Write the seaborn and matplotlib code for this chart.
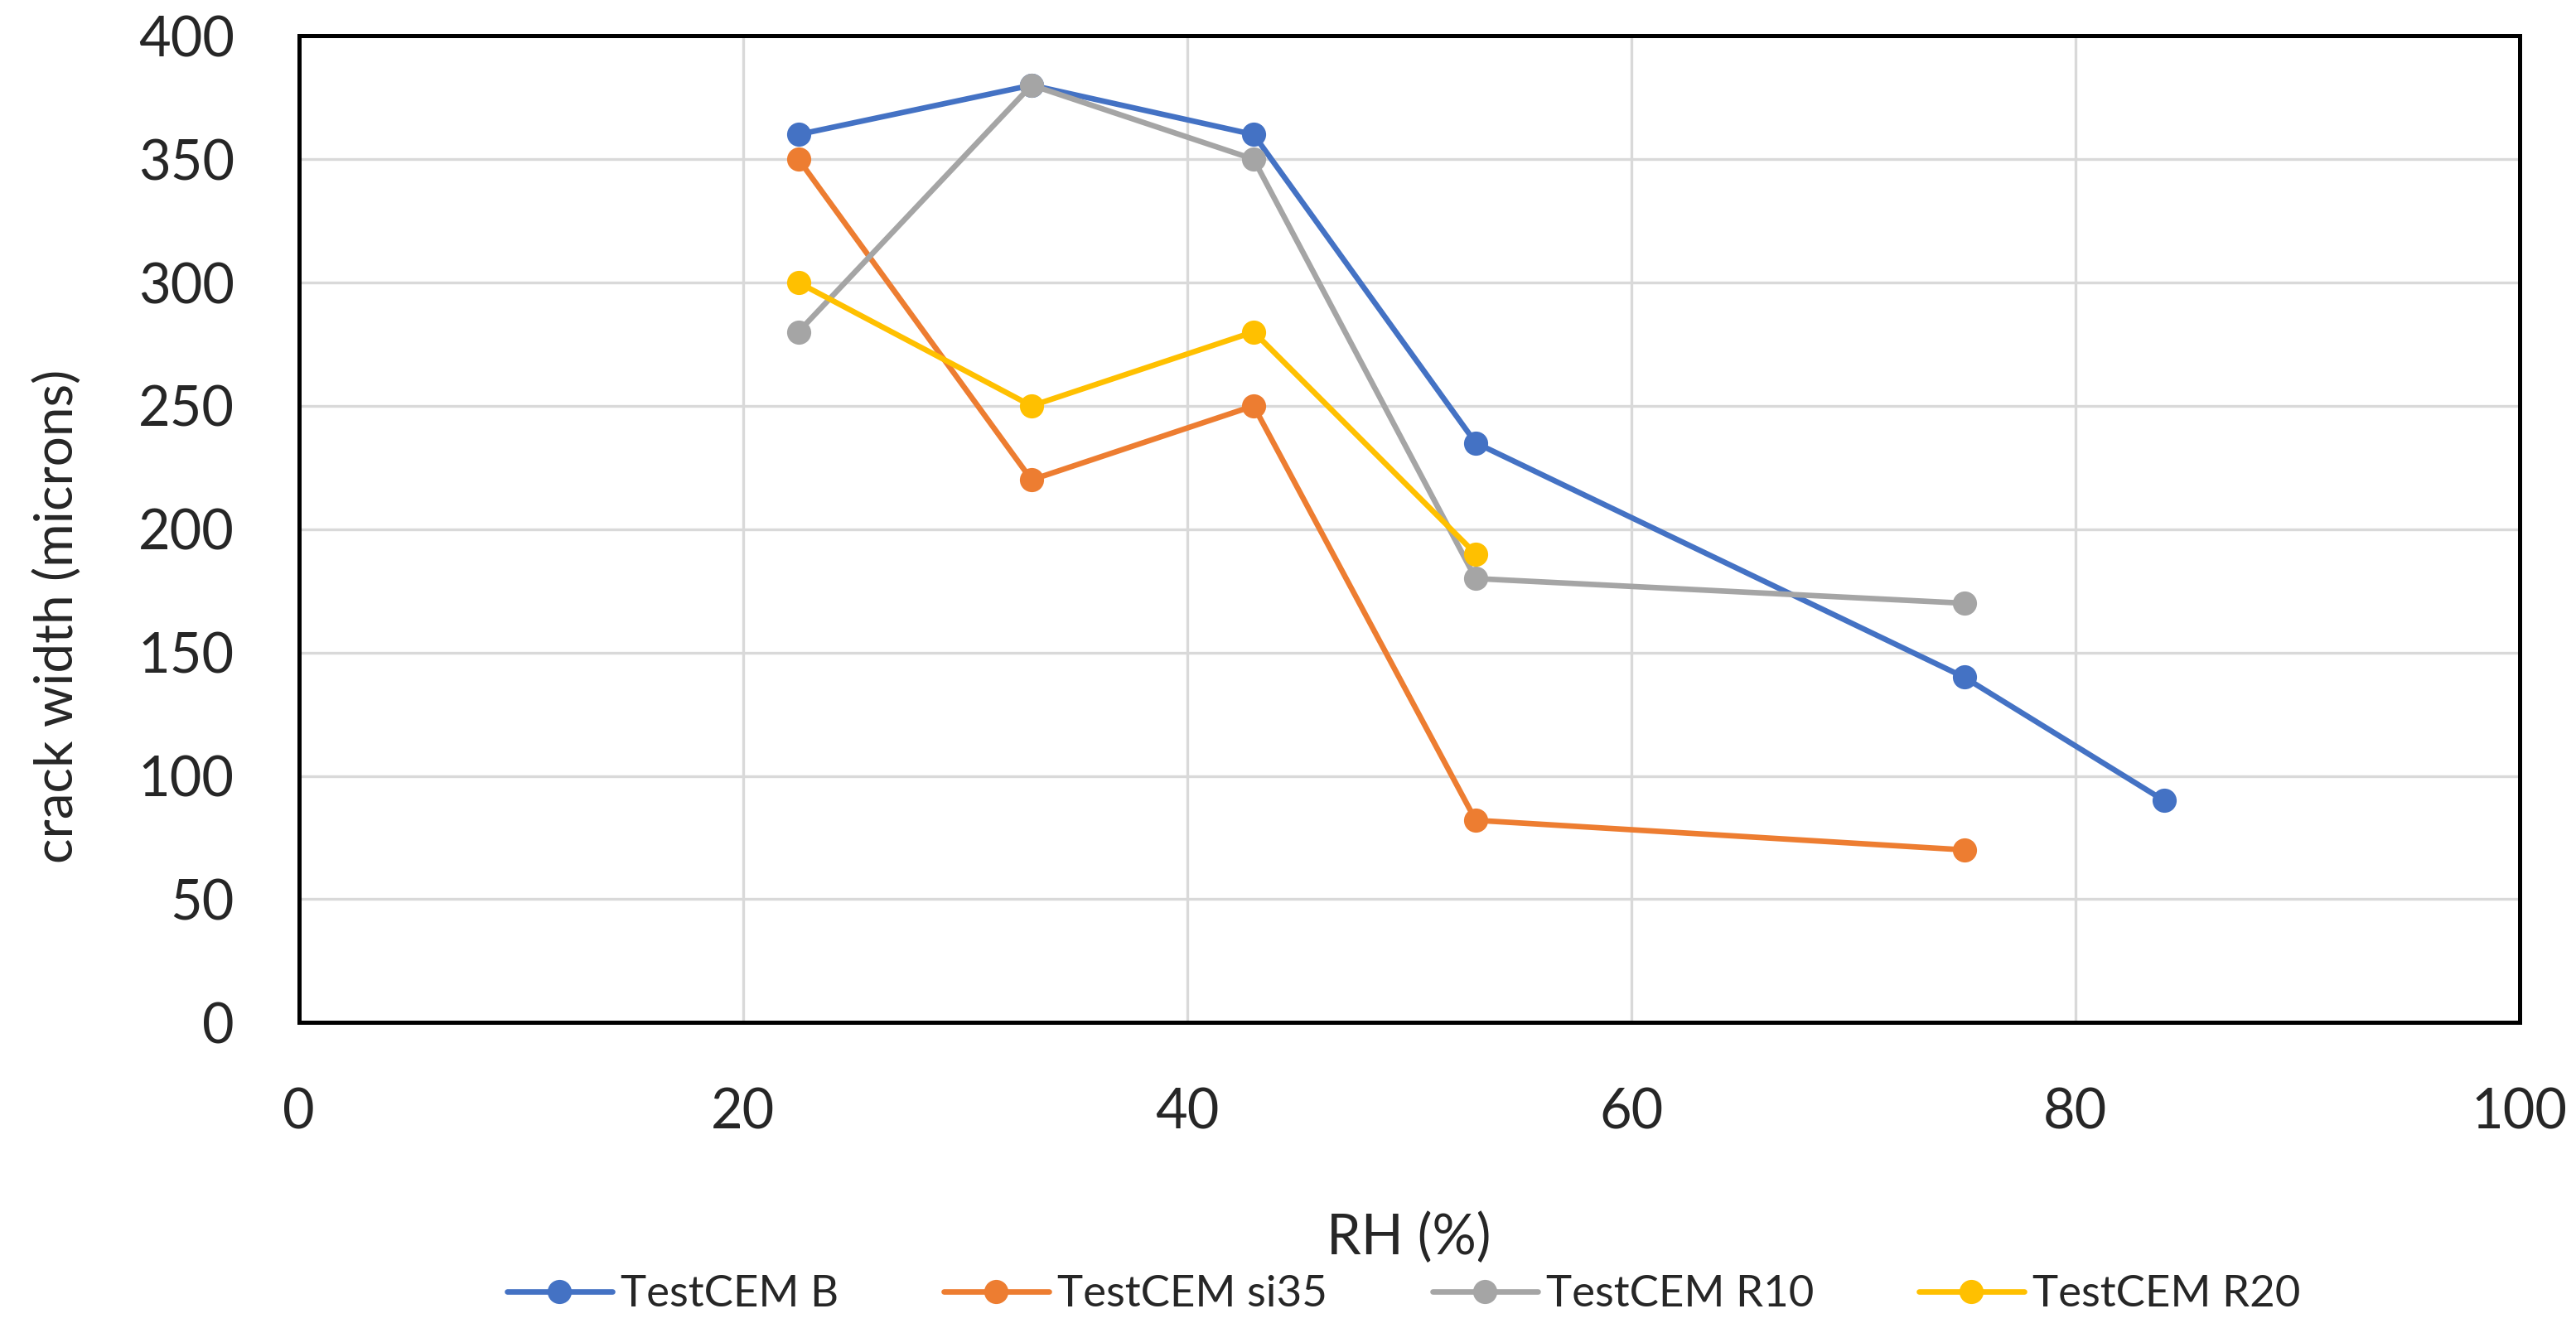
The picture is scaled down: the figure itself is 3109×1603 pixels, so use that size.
import pandas as pd
import matplotlib
matplotlib.use("Agg")
import matplotlib.pyplot as plt
import seaborn as sns

# data
series_names = ["TestCEM B", "TestCEM si35", "TestCEM R10", "TestCEM R20"]
rh_b = [22.5, 33, 43, 53, 75, 84]
width_b = [360, 380, 360, 235, 140, 90]
rh_si35 = [22.5, 33, 43, 53, 75]
width_si35 = [350, 220, 250, 82, 70]
rh_r10 = [22.5, 33, 43, 53, 75]
width_r10 = [280, 380, 350, 180, 170]
rh_r20 = [22.5, 33, 43, 53]
width_r20 = [300, 250, 280, 190]
colors = ["#4472C4", "#ED7D31", "#A5A5A5", "#FFC000"]

x_ticks = [0, 20, 40, 60, 80, 100]
y_ticks = [0, 50, 100, 150, 200, 250, 300, 350, 400]

frames = []
for name, xs, ys in zip(series_names,
                        [rh_b, rh_si35, rh_r10, rh_r20],
                        [width_b, width_si35, width_r10, width_r20]):
    frames.append(pd.DataFrame({"RH": xs, "width": ys, "series": name}))
df = pd.concat(frames, ignore_index=True)

sns.set_style("white")
plt.rcParams["font.family"] = ["Lato", "DejaVu Sans"]

fig = plt.figure(figsize=(15.545, 8.015), dpi=200)
ax = fig.add_axes([0.116, 0.23, 0.862, 0.743])

sns.lineplot(data=df, x="RH", y="width", hue="series", hue_order=series_names,
             palette=colors, marker="o", markersize=10.5, markeredgewidth=0,
             linewidth=2.4, sort=False, ax=ax, zorder=3)

ax.set_xlim(0, 100)
ax.set_ylim(0, 400)
ax.set_xticks(x_ticks)
ax.set_yticks(y_ticks)
ax.grid(True, color="#D9D9D9", linewidth=1.2, zorder=0)
ax.set_axisbelow(True)
for s in ax.spines.values():
    s.set_color("black")
    s.set_linewidth(1.8)
ax.tick_params(axis="both", length=0, labelsize=24, pad=28)

ax.set_xlabel("RH (%)", fontsize=24)
ax.xaxis.set_label_coords(0.547, 0.087, transform=fig.transFigure)
ax.set_ylabel("crack width (microns)", fontsize=23)
ax.yaxis.set_label_coords(0.032, 0.536, transform=fig.transFigure)

handles, labels = ax.get_legend_handles_labels()
ax.get_legend().remove()
fig.legend(handles, labels, loc="center", bbox_to_anchor=(0.545, 0.025),
           ncol=4, frameon=False, fontsize=19, handlelength=2.4,
           handletextpad=0.2, columnspacing=2.4)

fig.savefig("out.png", dpi=200)
